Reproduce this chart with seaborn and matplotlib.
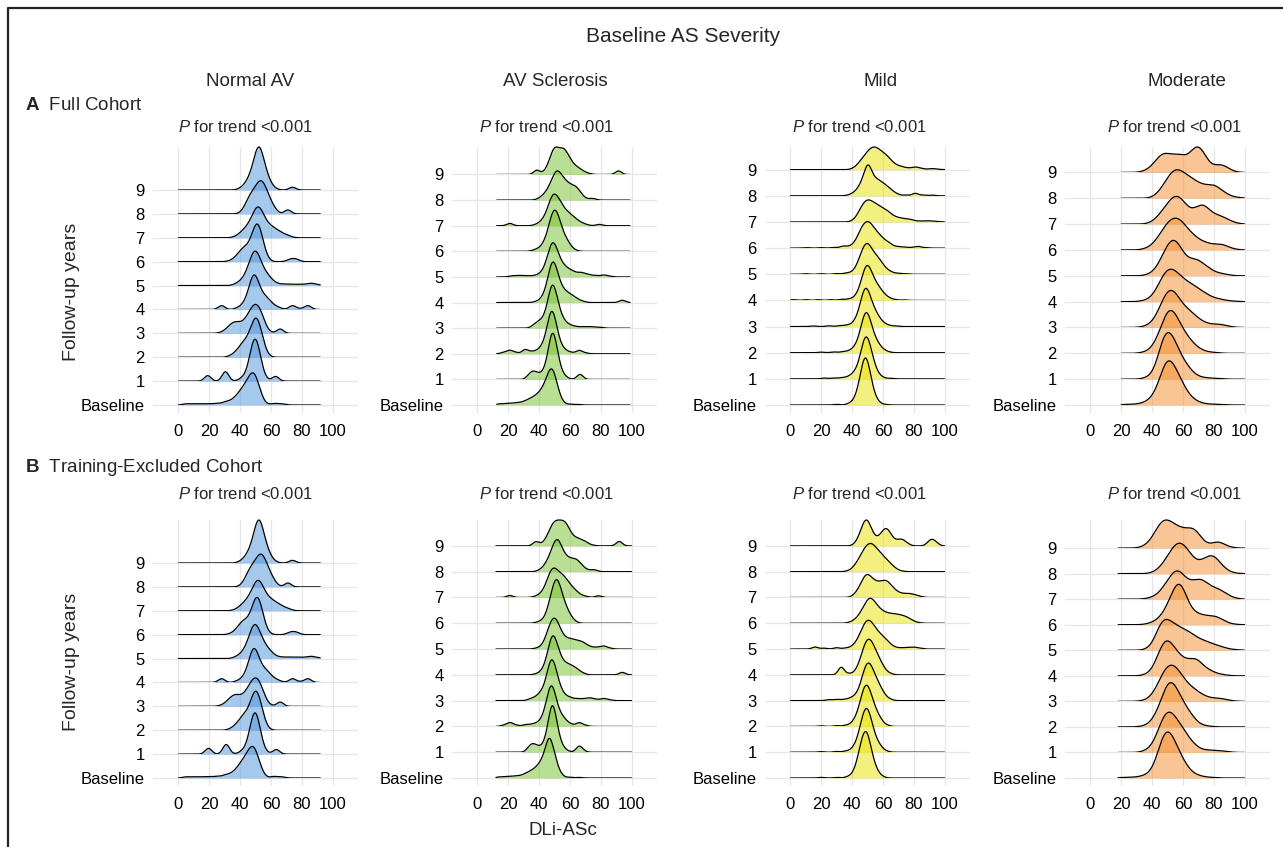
import numpy as np
import matplotlib
matplotlib.use("Agg")
import matplotlib.pyplot as plt
import seaborn as sns
from matplotlib.lines import Line2D

# ---------------- data ----------------
YEAR_LABELS = ["Baseline", "1", "2", "3", "4", "5", "6", "7", "8", "9"]
SEVERITY = ["Normal AV", "AV Sclerosis", "Mild", "Moderate"]
COHORT_LETTERS = ["A", "B"]
COHORTS = ["Full Cohort", "Training-Excluded Cohort"]
P_TREND = "<0.001"
X_TICKS = [0, 20, 40, 60, 80, 100]
X_LABEL = "DLi-ASc"
Y_LABEL = "Follow-up years"
SUPER_TITLE = "Baseline AS Severity"

# each ridge: (DLi-ASc value, relative weight) pairs, Baseline first, year 9 last
NORMAL_A = [
    [(5, 6), (10, 6), (15, 6), (20, 6), (25, 8), (30, 12), (33, 10), (35.5, 15), (38, 25), (40.5, 38), (43, 50), (45.5, 68), (48, 88), (50.5, 75), (53, 35), (55.5, 8), (62, 8), (67, 6)],
    [(19, 28), (30.5, 48), (40, 6), (42.5, 12), (45, 27), (47.5, 90), (50, 125), (52.5, 75), (55, 20), (57.5, 4), (63, 24)],
    [(33, 3), (35.5, 9), (38, 18), (40.5, 33), (43, 45), (45.5, 54), (48, 90), (50.5, 118), (53, 84), (55.5, 33), (58, 6)],
    [(27, 3), (30, 9), (32.5, 21), (35, 33), (37.5, 36), (40, 30), (42.5, 36), (45, 54), (47.5, 78), (50, 91), (52.5, 81), (55, 48), (57.5, 12), (60, 3), (66, 27)],
    [(28, 22), (38, 6), (41, 12), (43.5, 24), (46, 60), (48.5, 114), (51, 90), (53.5, 48), (56, 39), (58.5, 30), (61, 15), (63.5, 9), (66, 5), (74, 22), (79, 4), (84, 22)],
    [(37, 6), (40, 12), (42.5, 21), (45, 42), (47.5, 78), (50, 95), (52.5, 72), (55, 42), (57.5, 30), (60, 18), (62.5, 9), (66, 6), (70, 6), (74, 5), (78, 5), (82, 5), (86, 10), (90, 5)],
    [(33, 3), (36, 9), (38.5, 21), (41, 36), (43.5, 42), (46, 48), (48.5, 84), (51, 121), (53.5, 90), (56, 30), (58.5, 6), (72, 9), (74.5, 9), (77, 9)],
    [(36, 3), (38.5, 9), (41, 21), (43.5, 33), (46, 48), (48.5, 78), (51, 108), (53.5, 99), (56, 60), (58.5, 45), (61, 36), (63.5, 27), (66, 21), (68.5, 12), (71, 9), (73.5, 3)],
    [(41, 6), (43.5, 24), (46, 51), (48.5, 60), (51, 78), (53.5, 95), (56, 78), (58.5, 48), (61, 27), (63.5, 9), (71, 22)],
    [(40, 6), (43, 15), (45.5, 30), (48, 51), (50.5, 105), (53, 120), (55.5, 66), (58, 36), (60.5, 12), (63, 4), (74, 14)],
]
AVSCL_A = [
    [(14, 5), (18, 6), (22, 8), (26, 10), (30, 13), (33, 16), (35.5, 20), (38, 26), (40.5, 36), (43, 50), (45.5, 80), (48, 110), (50.5, 80), (53, 30), (55.5, 8), (60, 4), (65, 3)],
    [(33.5, 14), (36, 22), (38.5, 16), (41, 12), (43.5, 22), (46, 60), (48.5, 133), (51, 85), (53.5, 30), (56, 10), (58.5, 4), (66.5, 22)],
    [(17, 6), (21, 16), (25, 6), (31, 20), (35, 8), (38, 8), (40.5, 14), (43, 28), (45.5, 70), (48, 132), (50.5, 90), (53, 35), (55.5, 15), (58, 8), (61, 5), (66, 16), (70, 4)],
    [(36, 8), (38.5, 16), (41, 22), (43.5, 30), (46, 75), (48.5, 137), (51, 95), (53.5, 45), (56, 22), (58.5, 12), (61, 8), (64, 6), (68, 6), (72, 7), (76, 5), (80, 4)],
    [(38, 4), (41, 10), (43.5, 25), (46, 70), (48.5, 130), (51, 100), (53.5, 55), (56, 35), (58.5, 28), (61, 22), (63.5, 14), (66, 8), (69, 4), (94, 12)],
    [(22, 6), (26, 8), (30, 8), (34, 6), (38, 8), (41, 14), (43.5, 30), (46, 80), (48.5, 130), (51, 105), (53.5, 60), (56, 40), (58.5, 30), (61, 22), (63.5, 18), (67, 22), (70, 12), (73, 10), (77, 8), (82, 12), (86, 4)],
    [(36, 4), (39, 10), (42, 20), (44.5, 40), (47, 90), (49.5, 135), (52, 120), (54.5, 70), (57, 45), (59.5, 25), (62, 8), (64.5, 2)],
    [(21, 14), (38, 6), (41, 14), (43.5, 28), (46, 60), (48.5, 105), (51, 100), (53.5, 80), (56, 55), (58.5, 45), (61, 34), (63.5, 24), (66, 14), (68.5, 8), (71, 4), (79, 8)],
    [(39, 4), (41.5, 12), (44, 26), (46.5, 45), (49, 80), (51.5, 110), (54, 90), (56.5, 70), (59, 58), (61.5, 50), (64, 50), (66.5, 30), (69, 10), (71.5, 4), (75, 10)],
    [(38.5, 26), (43, 8), (45.5, 25), (48, 70), (50.5, 97), (53, 75), (55.5, 90), (58, 72), (60.5, 45), (63, 30), (65.5, 22), (68, 14), (70.5, 6), (73, 3), (91.5, 22)],
]
MILD_A = [
    [(30, 3), (38, 6), (41, 12), (43.5, 35), (46, 90), (48.5, 142), (51, 100), (53.5, 40), (56, 15), (58.5, 4), (62, 2)],
    [(22, 4), (28, 4), (33, 6), (37, 8), (40, 15), (42.5, 25), (45, 55), (47.5, 120), (50, 131), (52.5, 80), (55, 35), (57.5, 12), (60, 5), (65, 3)],
    [(20, 3), (28, 4), (34, 5), (38, 8), (41, 15), (43.5, 30), (46, 75), (48.5, 128), (51, 110), (53.5, 60), (56, 35), (58.5, 18), (61, 8), (64, 3)],
    [(15, 3), (25, 4), (32, 5), (37, 8), (41, 15), (43.5, 30), (46, 80), (48.5, 125), (51, 100), (53.5, 60), (56, 40), (58.5, 20), (61, 10), (64, 5), (68, 3)],
    [(2, 4), (10, 4), (18, 4), (26, 4), (33, 6), (38, 8), (42, 14), (44.5, 30), (47, 80), (49.5, 117), (52, 95), (54.5, 60), (57, 45), (59.5, 28), (62, 14), (64.5, 8), (68, 4), (74, 3)],
    [(10, 3), (20, 3), (30, 4), (36, 6), (40, 10), (43, 25), (45.5, 60), (48, 90), (50.5, 98), (53, 70), (55.5, 58), (58, 45), (60.5, 25), (63, 15), (66, 8), (70, 5), (75, 3)],
    [(10, 3), (20, 3), (28, 4), (34, 12), (38, 8), (41, 15), (43.5, 35), (46, 70), (48.5, 85), (51, 91), (53.5, 70), (56, 55), (58.5, 40), (61, 28), (63.5, 20), (66, 12), (70, 8), (74, 6), (79, 4), (83, 10), (88, 3)],
    [(40, 4), (42.5, 15), (45, 40), (47.5, 65), (50, 75), (52.5, 70), (55, 60), (57.5, 55), (60, 45), (62.5, 40), (65, 28), (67.5, 18), (70, 15), (72.5, 12), (75, 10), (77.5, 10), (80, 6), (84, 5), (88, 5), (91, 5), (95, 3)],
    [(38, 4), (41, 10), (43.5, 20), (46, 40), (48.5, 70), (50.5, 90), (52.5, 62), (55, 50), (57.5, 48), (60, 38), (62.5, 30), (65, 20), (67.5, 10), (70, 5), (75, 4), (81, 14), (86, 4), (92, 4)],
    [(40, 3), (42.5, 10), (45, 25), (47.5, 40), (50, 55), (52.5, 68), (55, 70), (57.5, 62), (60, 52), (62.5, 45), (65, 30), (67.5, 18), (70, 12), (72.5, 10), (75, 6), (78, 6), (81, 12), (84, 6), (87, 3), (92, 6), (96, 2)],
]
MODERATE_A = [
    [(21, 3), (26, 4), (31, 6), (35, 10), (38, 15), (40.5, 25), (43, 45), (45.5, 80), (48, 120), (50.5, 140), (53, 125), (55.5, 100), (58, 80), (60.5, 55), (63, 35), (65.5, 22), (68, 14), (71, 10), (75, 6), (80, 5), (86, 3)],
    [(35, 4), (38, 8), (41, 18), (43.5, 45), (46, 95), (48.5, 125), (51, 127), (53.5, 110), (56, 85), (58.5, 62), (61, 45), (63.5, 32), (66, 20), (69, 12), (73, 8), (78, 6), (84, 4)],
    [(33, 3), (37, 8), (40, 15), (42.5, 30), (45, 55), (47.5, 85), (50, 110), (52.5, 117), (55, 100), (57.5, 78), (60, 60), (62.5, 45), (65, 33), (67.5, 22), (70, 14), (73, 10), (77, 6), (82, 4)],
    [(33, 3), (37, 8), (40, 15), (42.5, 30), (45, 55), (47.5, 85), (50, 105), (52.5, 112), (55, 100), (57.5, 80), (60, 62), (62.5, 55), (65, 45), (67.5, 35), (70, 28), (73, 20), (76, 15), (80, 15), (84, 16), (88, 8), (92, 3)],
    [(33, 3), (37, 8), (40, 15), (42.5, 30), (45, 55), (47.5, 80), (50, 92), (52.5, 95), (55, 88), (57.5, 75), (60, 65), (62.5, 57), (65, 50), (67.5, 45), (70, 40), (73, 33), (76, 28), (80, 18), (84, 12), (88, 6), (93, 3)],
    [(36, 3), (39, 8), (42, 18), (44.5, 35), (47, 60), (49.5, 85), (52, 105), (54.5, 110), (57, 95), (59.5, 70), (62, 52), (64.5, 45), (67, 50), (69.5, 48), (72, 42), (75, 35), (78, 25), (82, 15), (86, 10), (90, 4)],
    [(34, 3), (37, 8), (40, 15), (42.5, 28), (45, 45), (47.5, 65), (50, 82), (52.5, 92), (55, 97), (57.5, 95), (60, 82), (62.5, 65), (65, 52), (67.5, 42), (70, 35), (73, 30), (76, 28), (80, 28), (84, 25), (87, 18), (90, 10), (94, 4)],
    [(38, 4), (41, 10), (43.5, 20), (46, 35), (48.5, 50), (51, 65), (53.5, 80), (56, 86), (58.5, 78), (61, 60), (63.5, 45), (66, 38), (68.5, 45), (71, 58), (73.5, 60), (76, 50), (79, 38), (82, 32), (85, 28), (88, 20), (91, 12), (95, 5)],
    [(40, 4), (43, 12), (45.5, 25), (48, 45), (50.5, 65), (53, 80), (55.5, 90), (58, 85), (60.5, 75), (63, 68), (65.5, 60), (68, 52), (70.5, 45), (73, 40), (75.5, 38), (78, 40), (80.5, 42), (83, 35), (86, 25), (89, 15), (93, 7), (97, 3)],
    [(34, 4), (37, 10), (40, 20), (42.5, 35), (45, 50), (47.5, 60), (50, 55), (52.5, 48), (55, 52), (57.5, 55), (60, 48), (62.5, 43), (65, 55), (67.5, 75), (70, 85), (72.5, 70), (75, 40), (77.5, 22), (80, 18), (82.5, 22), (85, 25), (87.5, 20), (90, 10), (93, 4)],
]
NORMAL_B = [
    [(5, 6), (10, 6), (15, 6), (20, 7), (25, 8), (30, 12), (33, 10), (35.5, 15), (38, 25), (40.5, 40), (43, 52), (45.5, 70), (48, 88), (50.5, 72), (53, 32), (55.5, 8), (62, 8), (67, 6)],
    [(19.5, 30), (31, 50), (40, 6), (42.5, 12), (45, 27), (47.5, 92), (50, 125), (52.5, 72), (55, 18), (57.5, 4), (63.5, 24)],
    [(33, 3), (35.5, 9), (38, 18), (40.5, 33), (43, 45), (45.5, 52), (48, 92), (50.5, 118), (53, 82), (55.5, 30), (58, 6)],
    [(27, 3), (30, 9), (32.5, 21), (35, 33), (37.5, 38), (40, 30), (42.5, 36), (45, 54), (47.5, 78), (50, 90), (52.5, 80), (55, 45), (57.5, 12), (60, 3), (66, 27)],
    [(28, 22), (38, 6), (41, 12), (43.5, 24), (46, 62), (48.5, 114), (51, 88), (53.5, 48), (56, 39), (58.5, 30), (61, 15), (63.5, 9), (66, 5), (74, 22), (79, 4), (84, 22)],
    [(37, 6), (40, 12), (42.5, 21), (45, 42), (47.5, 80), (50, 95), (52.5, 70), (55, 42), (57.5, 30), (60, 18), (62.5, 9), (66, 6), (70, 6), (74, 5), (78, 5), (82, 5), (86, 10), (90, 5)],
    [(33, 3), (36, 9), (38.5, 21), (41, 38), (43.5, 42), (46, 45), (48.5, 84), (51, 121), (53.5, 88), (56, 28), (58.5, 6), (72, 9), (74.5, 9), (77, 9)],
    [(36, 3), (38.5, 9), (41, 21), (43.5, 33), (46, 48), (48.5, 78), (51, 108), (53.5, 99), (56, 60), (58.5, 45), (61, 36), (63.5, 27), (66, 21), (68.5, 12), (71, 9), (73.5, 3)],
    [(41, 6), (43.5, 24), (46, 51), (48.5, 60), (51, 78), (53.5, 95), (56, 78), (58.5, 48), (61, 27), (63.5, 9), (71, 22)],
    [(40, 6), (43, 15), (45.5, 30), (48, 51), (50.5, 108), (53, 125), (55.5, 66), (58, 36), (60.5, 12), (63, 4), (74, 14)],
]
AVSCL_B = [
    [(14, 5), (18, 6), (22, 8), (26, 10), (30, 14), (33, 18), (35.5, 22), (38, 30), (40.5, 42), (43, 62), (45.5, 100), (47.5, 110), (50, 70), (52.5, 25), (55, 8), (60, 4), (66, 3)],
    [(33.5, 16), (36, 24), (38.5, 15), (41, 12), (43.5, 22), (46, 65), (48.5, 140), (51, 80), (53.5, 28), (56, 10), (58.5, 4), (66, 26), (69, 4)],
    [(17, 5), (21, 18), (25, 6), (31, 8), (35, 8), (38, 9), (40.5, 14), (43, 30), (45.5, 80), (48, 125), (50.5, 80), (53, 38), (55.5, 26), (58, 14), (61, 8), (66, 18), (70, 5)],
    [(34, 6), (37, 10), (40, 20), (42.5, 28), (45, 60), (47.5, 120), (50, 100), (52.5, 50), (55, 25), (58, 14), (61, 10), (65, 8), (69, 8), (73, 12), (77, 6), (82, 10), (86, 3)],
    [(38, 4), (41, 10), (43.5, 25), (46, 75), (48.5, 135), (51, 105), (53.5, 60), (56, 38), (58.5, 33), (61, 30), (63.5, 22), (66, 14), (69, 6), (94, 14)],
    [(38, 4), (41, 8), (43.5, 25), (46, 70), (48.5, 105), (51, 108), (53.5, 70), (56, 42), (58.5, 35), (61, 35), (63.5, 30), (66, 28), (68.5, 25), (71, 14), (74, 10), (78, 10), (82, 18), (86, 5)],
    [(38, 3), (41, 8), (44, 20), (46.5, 55), (49, 110), (51.5, 141), (54, 100), (56.5, 60), (59, 35), (61.5, 15), (64, 4)],
    [(21, 12), (37, 4), (40, 10), (42.5, 20), (45, 50), (47.5, 90), (50, 96), (52.5, 80), (55, 73), (57.5, 60), (60, 42), (62.5, 28), (65, 18), (68, 8), (71, 4), (78.5, 10)],
    [(40, 5), (42.5, 14), (45, 32), (47.5, 60), (50, 100), (52.5, 112), (55, 70), (57.5, 50), (60, 42), (62.5, 42), (65, 40), (67.5, 22), (70, 10), (73, 5), (76, 10)],
    [(38, 28), (42, 8), (44.5, 25), (47, 60), (49.5, 88), (52, 90), (54.5, 88), (57, 90), (59.5, 60), (62, 32), (64.5, 30), (67, 22), (69.5, 20), (72, 8), (75, 3), (92, 30)],
]
MILD_B = [
    [(20, 3), (30, 3), (37, 5), (40, 10), (42.5, 30), (45, 80), (47.5, 125), (50, 130), (52.5, 70), (55, 32), (57.5, 12), (60, 4)],
    [(20, 3), (30, 4), (36, 6), (40, 12), (42.5, 25), (45, 65), (47.5, 120), (50, 135), (52.5, 90), (55, 45), (57.5, 25), (60, 10), (63, 3)],
    [(20, 3), (30, 4), (36, 6), (40, 12), (42.5, 25), (45, 60), (47.5, 110), (50, 120), (52.5, 85), (55, 50), (57.5, 30), (60, 12), (63, 4)],
    [(25, 5), (30, 6), (35, 6), (39, 10), (42, 15), (44.5, 28), (47, 70), (49.5, 105), (52, 100), (54.5, 70), (57, 50), (59.5, 28), (62, 12), (65, 5)],
    [(33, 40), (38, 6), (42, 10), (44.5, 30), (47, 70), (49.5, 100), (52, 100), (54.5, 75), (57, 52), (59.5, 30), (62, 12), (65, 5)],
    [(16, 12), (22, 5), (30, 8), (36, 6), (40, 10), (42.5, 20), (45, 45), (47.5, 75), (50, 93), (52.5, 85), (55, 65), (57.5, 50), (60, 40), (62.5, 28), (65, 15), (68, 8), (72, 6), (76, 8), (80, 10), (84, 5)],
    [(38, 4), (41, 10), (43.5, 20), (46, 40), (48.5, 65), (51, 87), (53.5, 80), (56, 60), (58.5, 45), (61, 38), (63.5, 32), (66, 32), (68.5, 30), (71, 28), (73.5, 25), (76, 20), (78.5, 12), (81, 5), (84, 2)],
    [(40, 4), (42.5, 15), (45, 35), (47.5, 65), (50, 77), (52.5, 62), (55, 50), (57.5, 48), (60, 52), (62.5, 55), (65, 40), (67.5, 25), (70, 18), (73, 15), (76, 15), (79, 14), (82, 8), (85, 3)],
    [(37, 3), (40, 10), (42.5, 25), (45, 45), (47.5, 70), (50, 85), (52.5, 90), (55, 78), (57.5, 62), (60, 50), (62.5, 38), (65, 25), (67.5, 14), (70, 5), (73, 2)],
    [(42, 8), (44.5, 30), (47, 70), (49.5, 95), (52, 60), (54.5, 28), (57, 25), (59.5, 45), (62, 62), (64.5, 45), (67, 18), (69.5, 18), (72, 25), (74.5, 15), (77, 4), (90, 20), (92.5, 25), (95, 10)],
]
MODERATE_B = [
    [(19, 3), (25, 4), (30, 5), (34, 8), (37, 12), (40, 22), (42.5, 45), (45, 85), (47.5, 125), (50, 135), (52.5, 120), (55, 95), (57.5, 72), (60, 50), (62.5, 32), (65, 20), (68, 12), (71, 8), (75, 5), (80, 3)],
    [(34, 4), (37, 10), (40, 20), (42.5, 40), (45, 75), (47.5, 105), (50, 120), (52.5, 115), (55, 100), (57.5, 82), (60, 68), (62.5, 50), (65, 35), (67.5, 22), (70, 15), (74, 12), (78, 10), (82, 9), (86, 7), (90, 3)],
    [(33, 3), (37, 8), (40, 18), (42.5, 35), (45, 60), (47.5, 95), (50, 125), (52.5, 132), (55, 115), (57.5, 90), (60, 70), (62.5, 52), (65, 38), (67.5, 22), (70, 12), (74, 6), (78, 3)],
    [(33, 3), (37, 8), (40, 18), (42.5, 35), (45, 60), (47.5, 85), (50, 100), (52.5, 105), (55, 100), (57.5, 85), (60, 65), (62.5, 52), (65, 42), (67.5, 35), (70, 28), (73, 22), (76, 16), (80, 15), (84, 15), (88, 8), (92, 3)],
    [(35, 4), (38, 10), (41, 25), (43.5, 55), (46, 90), (48.5, 110), (51, 108), (53.5, 88), (56, 70), (58.5, 58), (61, 48), (63.5, 45), (66, 50), (68.5, 55), (71, 45), (74, 32), (77, 20), (80, 15), (84, 8), (88, 4)],
    [(36, 4), (39, 12), (42, 35), (44.5, 70), (47, 90), (49.5, 90), (52, 80), (54.5, 72), (57, 66), (59.5, 60), (62, 55), (64.5, 50), (67, 46), (70, 40), (73, 34), (76, 28), (79, 22), (82, 17), (85, 12), (88, 8), (92, 4), (96, 2)],
    [(36, 3), (40, 8), (43, 15), (46, 25), (48.5, 40), (51, 60), (53.5, 90), (56, 115), (58.5, 120), (61, 90), (63.5, 55), (66, 38), (68.5, 30), (71, 30), (74, 30), (77, 28), (80, 28), (83, 25), (86, 15), (89, 6), (93, 3)],
    [(36, 3), (40, 8), (43, 15), (46, 28), (48.5, 45), (51, 62), (53.5, 80), (56, 94), (58.5, 85), (61, 65), (63.5, 53), (66, 53), (68.5, 58), (71, 62), (73.5, 58), (76, 48), (79, 44), (82, 40), (85, 32), (88, 20), (91, 10), (95, 4)],
    [(40, 4), (43, 10), (45.5, 20), (48, 35), (50.5, 55), (53, 75), (55.5, 90), (58, 95), (60.5, 88), (63, 72), (65.5, 52), (68, 38), (70.5, 35), (73, 40), (75.5, 50), (78, 57), (80.5, 55), (83, 42), (86, 25), (89, 12), (93, 4)],
    [(33, 4), (36, 12), (39, 25), (41.5, 45), (44, 70), (46.5, 88), (49, 92), (51.5, 85), (54, 75), (56.5, 68), (59, 62), (61.5, 58), (64, 62), (66.5, 67), (69, 55), (71.5, 35), (74, 18), (77, 12), (80, 18), (82.5, 23), (85, 20), (88, 10), (92, 3)],
]
# observed data range of each panel (ridge lines span it)
RANGES_A = [(0, 92), (12.5, 99), (0, 100), (20, 100)]
RANGES_B = [(0, 92), (12, 100), (0, 100), (18, 100)]

PANELS = [[NORMAL_A, AVSCL_A, MILD_A, MODERATE_A],
          [NORMAL_B, AVSCL_B, MILD_B, MODERATE_B]]
RANGES = [RANGES_A, RANGES_B]

# ---------------- style ----------------
sns.set_theme(style="white")
plt.rcParams["font.family"] = ["Liberation Sans", "DejaVu Sans"]
plt.rcParams["mathtext.fontset"] = "custom"
plt.rcParams["mathtext.rm"] = "Liberation Sans"
plt.rcParams["mathtext.it"] = "Liberation Sans:italic"
plt.rcParams["mathtext.bf"] = "Liberation Sans:bold"

W, H = 1283, 847
FILL_COLORS = ["#4d94dc", "#75c12a", "#ebe200", "#f58d2a"]
FILL_ALPHA = 0.5
BANDWIDTH = [2.2, 2.0, 2.0, 3.0]
RIDGE_SCALE = 1.8
XLIM = (-16.5, 116.5)
COL_LEFT = [153, 452, 765, 1065]
PANEL_W = 205
ROW_TOP = [147, 520]
PANEL_H = 266
BASE_GAP = 8  # px from panel bottom to baseline row
GRID_C = "#e6e6e6"
INSET_ROWS = 3.0


def fx(px):
    return px / W


def fy(py):
    return 1 - py / H


fig = plt.figure(figsize=(W / 100, H / 100), dpi=100)
fig.patch.set_facecolor("white")

for r in range(2):
    for c in range(4):
        ridges = PANELS[r][c]
        lo, hi = RANGES[r][c]
        ax = fig.add_axes([fx(COL_LEFT[c]), fy(ROW_TOP[r] + PANEL_H),
                           fx(PANEL_W), PANEL_H / H])
        ax.set_facecolor("none")
        ax.set_xlim(*XLIM)
        insets, peaks = [], []
        for i in range(9, -1, -1):
            xs = np.array([p[0] for p in ridges[i]], float)
            ws = np.array([p[1] for p in ridges[i]], float)
            sd = np.sqrt(np.cov(xs, aweights=ws))
            bwm = BANDWIDTH[c] / sd
            iax = ax.inset_axes([XLIM[0], i, XLIM[1] - XLIM[0], INSET_ROWS],
                                transform=ax.transData)
            kw = dict(x=xs, weights=ws, bw_method=bwm, clip=(lo, hi), cut=200,
                      gridsize=600, ax=iax)
            sns.kdeplot(fill=True, color=FILL_COLORS[c], alpha=FILL_ALPHA,
                        linewidth=0, **kw)
            sns.kdeplot(fill=False, color="black", linewidth=0.9, **kw)
            peaks.append(iax.lines[-1].get_ydata().max())
            insets.append((i, iax))
        row_dens = max(peaks) / RIDGE_SCALE
        ytop = max(i + pk / row_dens for (i, _), pk in zip(insets, peaks))
        for i, iax in insets:
            iax.set_xlim(*XLIM)
            iax.set_ylim(0, INSET_ROWS * row_dens)
            iax.set_xticks([])
            iax.set_yticks([])
            iax.set_xlabel("")
            iax.set_ylabel("")
            iax.axis("off")
            iax.patch.set_alpha(0)
        spacing = (PANEL_H - BASE_GAP) / ytop
        ax.set_ylim(-BASE_GAP / spacing, ytop)
        ax.set_xticks(X_TICKS)
        ax.set_xticklabels([str(t) for t in X_TICKS], fontsize=12, color="black")
        ax.set_yticks(range(10))
        ax.set_yticklabels(YEAR_LABELS, fontsize=12, color="black")
        ax.tick_params(axis="both", length=0)
        ax.tick_params(axis="x", pad=8)
        ax.tick_params(axis="y", pad=6)
        ax.grid(True, color=GRID_C, linewidth=0.9)
        ax.set_axisbelow(True)
        for s in ax.spines.values():
            s.set_visible(False)
        ax.set_xlabel("")
        ax.set_ylabel("")

# ---------------- text ----------------
fig.text(fx(683), fy(37), SUPER_TITLE, ha="center", va="center", fontsize=15)
for c, cx in enumerate([250, 555, 881, 1187]):
    fig.text(fx(cx), fy(81), SEVERITY[c], ha="center", va="center", fontsize=13.5)
for r, ty in enumerate([105, 467]):
    fig.text(fx(25), fy(ty), r"$\mathbf{" + COHORT_LETTERS[r] + "}$  " + COHORTS[r],
             ha="left", va="center", fontsize=13.5)
for r, py in enumerate([127, 494]):
    for c, cx in enumerate([245, 546, 859, 1174]):
        fig.text(fx(cx), fy(py), r"$\mathit{P}$ for trend " + P_TREND,
                 ha="center", va="center", fontsize=12)
for yc in [292, 662]:
    fig.text(fx(71), fy(yc), Y_LABEL, rotation=90, ha="center", va="center", fontsize=14)
fig.text(fx(563), fy(830), X_LABEL, ha="center", va="center", fontsize=13.5)

# frame (left and top edges visible)
fig.add_artist(Line2D([fx(8), fx(8), fx(1283)], [fy(847), fy(8), fy(8)],
                      color="#222222", linewidth=1.6, transform=fig.transFigure))

fig.savefig("out.png", dpi=100)
